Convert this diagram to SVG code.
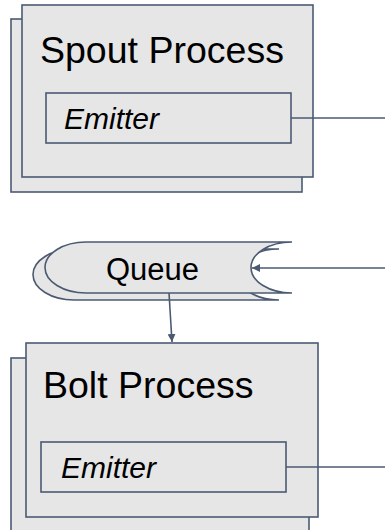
<svg xmlns="http://www.w3.org/2000/svg" width="385" height="530" viewBox="0 0 385 530">
  <style>
    .box { fill: #e6e6e6; stroke: #4b5a72; stroke-width: 1.6; }
    .wire { fill: none; stroke: #4b5a72; stroke-width: 1.6; }
    .title { font-family: "Liberation Sans", Arial, sans-serif; font-size: 37.5px; fill: #000; }
    .label { font-family: "Liberation Sans", Arial, sans-serif; font-size: 30px; font-style: italic; fill: #000; }
    .qlabel { font-family: "Liberation Sans", Arial, sans-serif; font-size: 31px; fill: #000; }
  </style>
  <defs>
    <marker id="arrow" viewBox="0 0 10 10" refX="10" refY="5" markerWidth="8" markerHeight="8" markerUnits="userSpaceOnUse" orient="auto">
      <path d="M0,0 L10,5 L0,10 Z" fill="#4b5a72"/>
    </marker>
  </defs>

  <!-- Spout process: stacked boxes with an emitter inside -->
  <g id="spout">
    <rect class="box" x="11" y="19" width="291" height="173"/>
    <rect class="box" x="22" y="5" width="291" height="172"/>
    <text class="title" x="40" y="63">Spout Process</text>
    <g id="spout-emitter">
      <rect class="box" x="46" y="93" width="245" height="50"/>
      <text class="label" x="64" y="129">Emitter</text>
    </g>
  </g>

  <!-- Queue: stacked stored-data shapes -->
  <g id="queue">
    <path class="box" d="M74,249 L279,249 A41,25.5 0 0 0 279,300 L74,300 A41,25.5 0 0 1 74,249 Z"/>
    <path class="box" d="M86,242 L292,242 A41,25.5 0 0 0 292,293 L86,293 A41,25.5 0 0 1 86,242 Z"/>
    <text class="qlabel" x="106" y="280">Queue</text>
  </g>

  <!-- Bolt process: stacked boxes with an emitter inside -->
  <g id="bolt">
    <rect class="box" x="11" y="358" width="298" height="190"/>
    <rect class="box" x="26" y="343" width="292" height="174"/>
    <text class="title" x="43" y="398">Bolt Process</text>
    <g id="bolt-emitter">
      <rect class="box" x="41" y="442" width="245" height="50"/>
      <text class="label" x="61" y="478">Emitter</text>
    </g>
  </g>

  <!-- Connectors -->
  <g id="connectors">
    <line class="wire" x1="291" y1="118" x2="385" y2="118"/>
    <line class="wire" x1="385" y1="268" x2="252" y2="268" marker-end="url(#arrow)"/>
    <line class="wire" x1="169" y1="293" x2="172" y2="342" marker-end="url(#arrow)"/>
    <line class="wire" x1="286" y1="467" x2="385" y2="467"/>
  </g>
</svg>
